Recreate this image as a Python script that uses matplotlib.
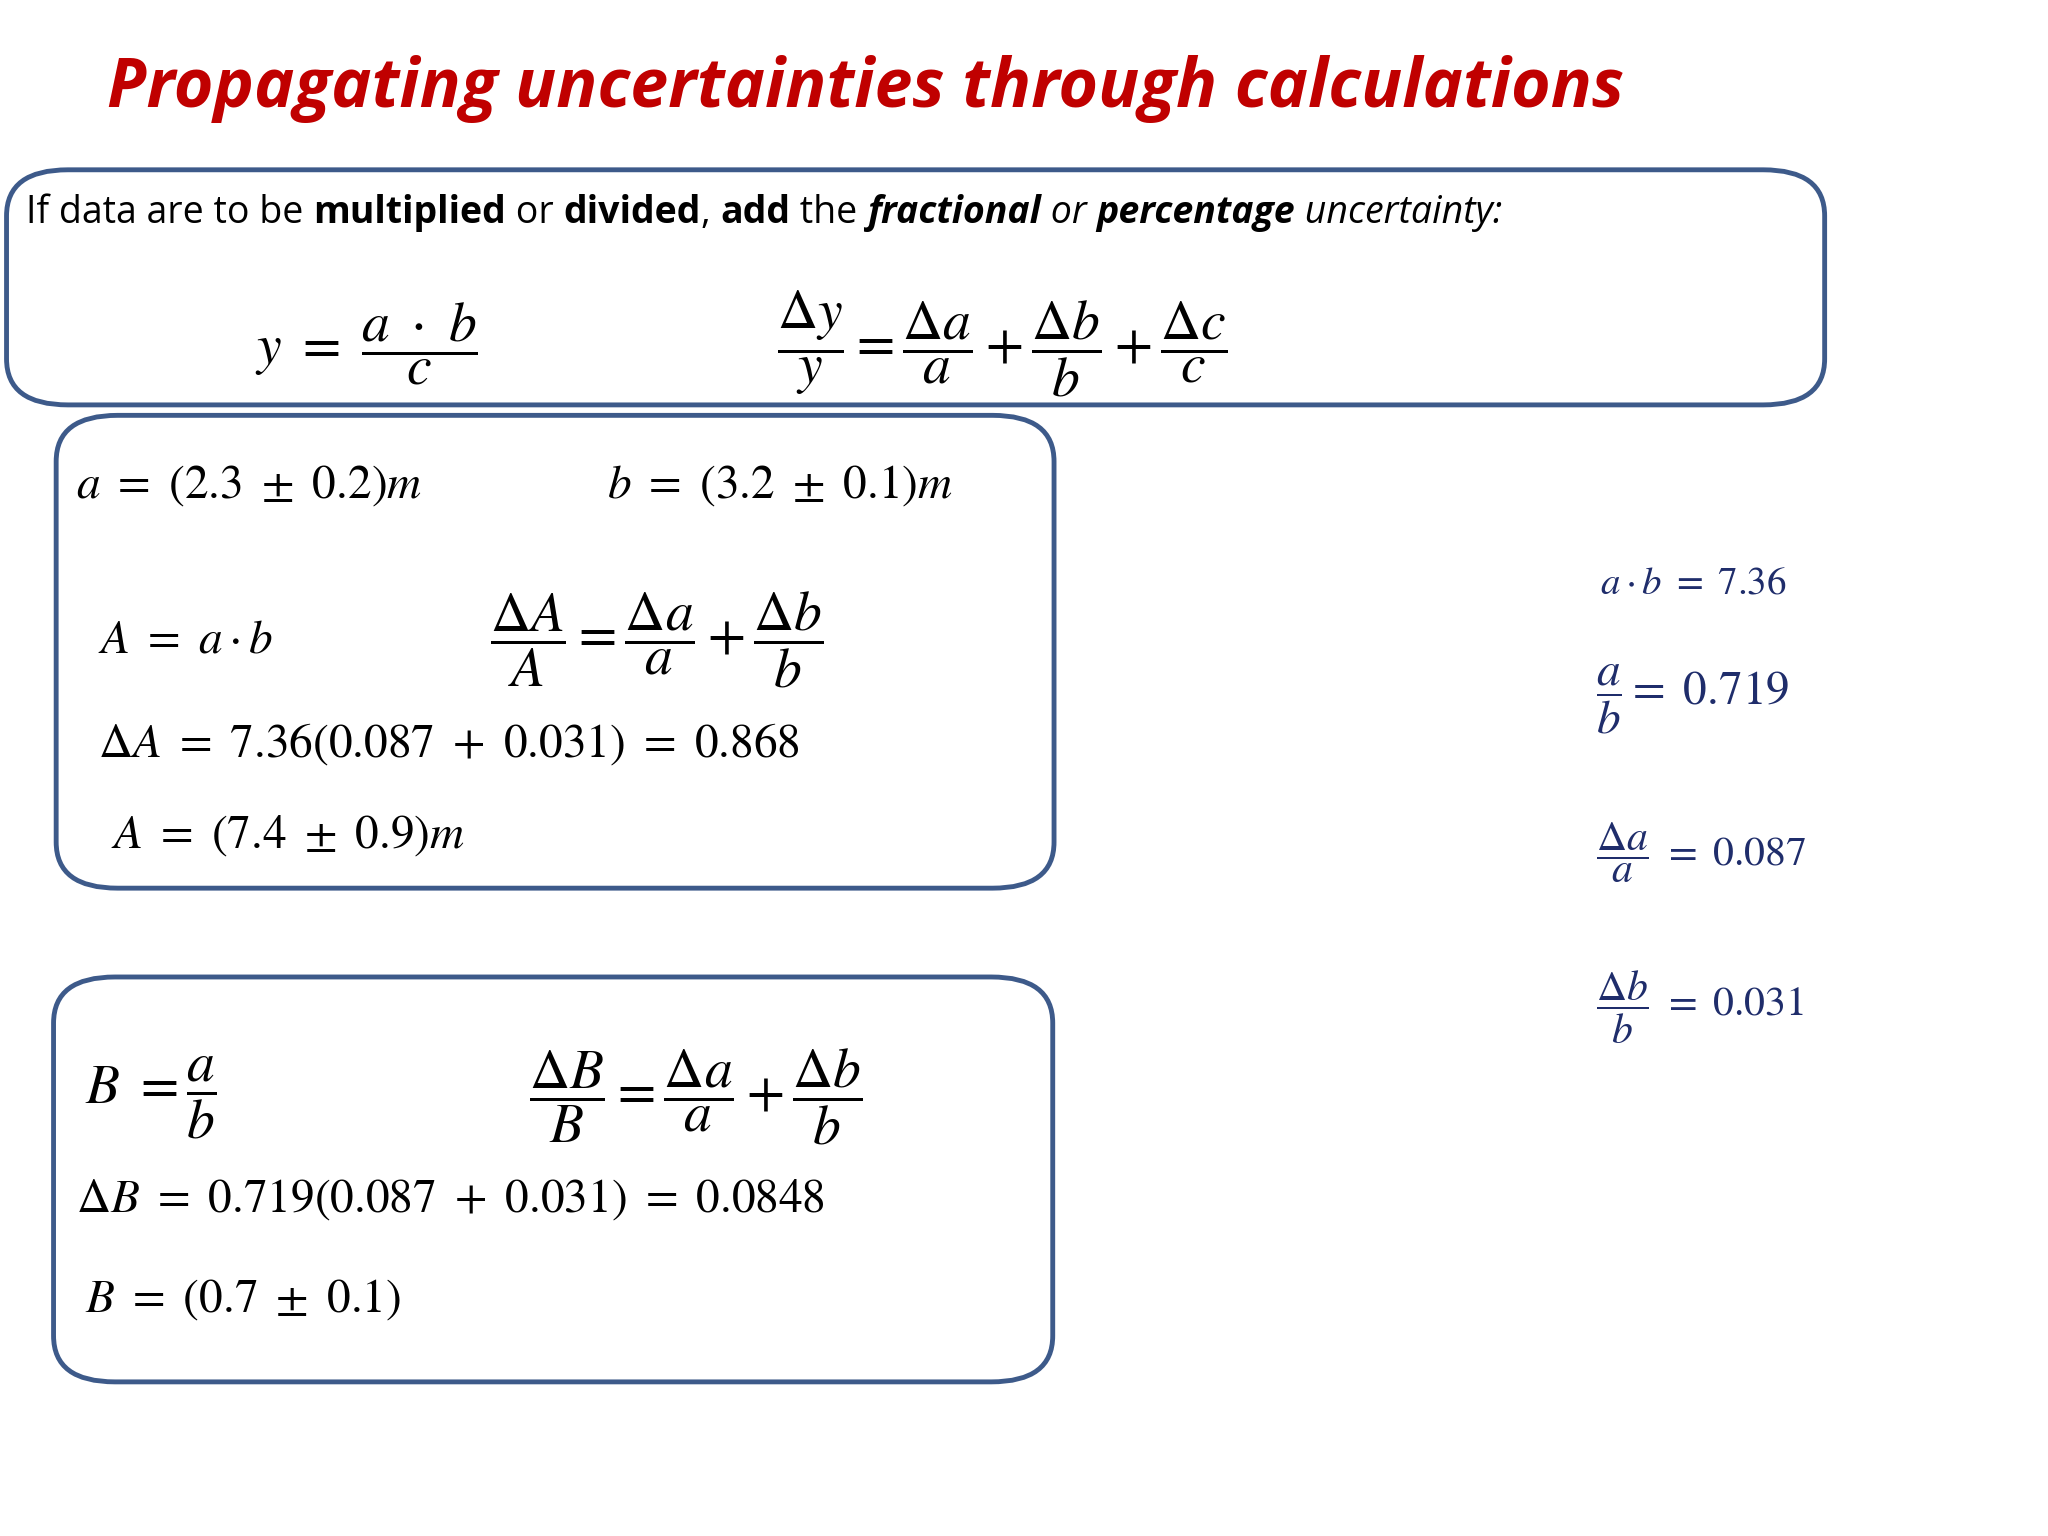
import matplotlib.pyplot as plt
from matplotlib.patches import FancyBboxPatch

plt.rcParams['mathtext.fontset'] = 'stix'

# measured values
a_val, a_err = 2.3, 0.2
b_val, b_err = 3.2, 0.1
ab = 7.36
a_over_b = 0.719
frac_a = 0.087
frac_b = 0.031
dA = 0.868
A_res = (7.4, 0.9)
dB = 0.0848
B_res = (0.7, 0.1)

W, H = 1568, 1176
fig = plt.figure(figsize=(20.48, 15.36), dpi=100)
fig.patch.set_facecolor('white')

def fx(px): return px / W
def fy(py): return 1 - py / H

def txt(px, py, s, size=30, color='black', **kw):
    fig.text(fx(px), fy(py), s, fontsize=size, color=color, va='center', ha='left', **kw)

def box(x0, y0, x1, y1):
    p = FancyBboxPatch((fx(x0), fy(y1)), fx(x1) - fx(x0), fy(y0) - fy(y1),
                       boxstyle='round,pad=0,rounding_size=0.03', transform=fig.transFigure,
                       fill=False, edgecolor='#3D5A8A', linewidth=3.5)
    fig.patches.append(p)

fig.text(fx(82), fy(68), 'Propagating uncertainties through calculations', fontsize=49,
         color='#C00000', style='italic', weight='bold', family='Open Sans', va='center', ha='left')

box(5, 130, 1397, 310)
box(43, 318, 807, 680)
box(41, 748, 806, 1058)

# first line, mixed weights
pieces = [('If data are to be ', 'normal', 'normal'), ('multiplied', 'bold', 'normal'),
          (' or ', 'normal', 'normal'), ('divided', 'bold', 'normal'), (', ', 'normal', 'normal'),
          ('add', 'bold', 'normal'), (' the ', 'normal', 'normal'), ('fractional', 'bold', 'italic'),
          (' or ', 'normal', 'italic'), ('percentage', 'bold', 'italic'), (' uncertainty:', 'normal', 'italic')]
renderer = fig.canvas.get_renderer()
x = fx(20)
for s, w, st in pieces:
    t = fig.text(x, fy(163), s, fontsize=27, family='Open Sans', weight=w, style=st,
                 va='center', ha='left')
    bb = t.get_window_extent(renderer)
    x += bb.width / fig.bbox.width

txt(195, 263, r'$y\ =\ \dfrac{a\ \cdot\ b}{c}$', 40)
txt(595, 263, r'$\dfrac{\Delta y}{y}=\dfrac{\Delta a}{a}+\dfrac{\Delta b}{b}+\dfrac{\Delta c}{c}$', 40)

txt(58, 372, rf'$a\ =\ ({a_val}\ \pm\ {a_err})m$', 34)
txt(465, 372, rf'$b\ =\ ({b_val}\ \pm\ {b_err})m$', 34)
txt(75, 490, r'$A\ =\ a\cdot b$', 34)
txt(375, 490, r'$\dfrac{\Delta A}{A}=\dfrac{\Delta a}{a}+\dfrac{\Delta b}{b}$', 40)
txt(75, 570, rf'$\Delta A\ =\ {ab}({frac_a}\ +\ {frac_b})\ =\ {dA}$', 34)
txt(85, 640, rf'$A\ =\ ({A_res[0]}\ \pm\ {A_res[1]})m$', 34)

txt(65, 840, r'$B\ =\dfrac{a}{b}$', 40)
txt(405, 840, r'$\dfrac{\Delta B}{B}=\dfrac{\Delta a}{a}+\dfrac{\Delta b}{b}$', 40)
txt(58, 918, rf'$\Delta B\ =\ {a_over_b}({frac_a}\ +\ {frac_b})\ =\ {dB}$', 34)
txt(65, 995, rf'$B\ =\ ({B_res[0]}\ \pm\ {B_res[1]})$', 34)

nv = '#1F2D6B'
txt(1225, 446, rf'$a\cdot b\ =\ {ab}$', 28, nv)
txt(1222, 535, rf'$\dfrac{{a}}{{b}}=\ {a_over_b}$', 34, nv)
txt(1222, 653, rf'$\dfrac{{\Delta a}}{{a}}\ =\ {frac_a}$', 30, nv)
txt(1222, 771, rf'$\dfrac{{\Delta b}}{{b}}\ =\ {frac_b}$', 30, nv)

fig.savefig('out.png', dpi=100, facecolor='white')
